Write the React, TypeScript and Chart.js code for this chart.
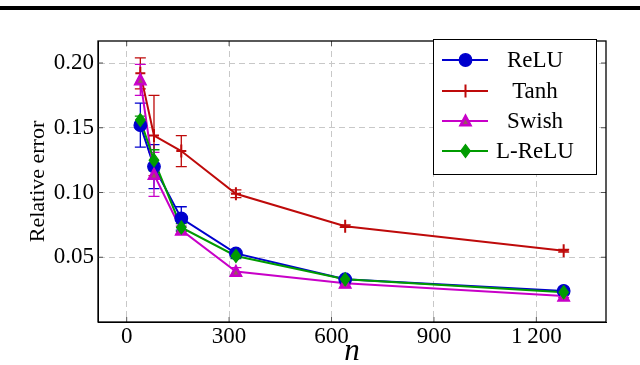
import React, { useEffect, useRef } from "react";
import { Chart, registerables } from "chart.js";
Chart.register(...registerables);

// ---- data ----
const nValues = [40, 80, 160, 320, 640, 1280];
const reluMean = [0.152, 0.12, 0.08, 0.053, 0.033, 0.024];
const reluErr = [0.017, 0.017, 0.009, 0.002, 0.001, 0.001];
const tanhMean = [0.192, 0.144, 0.132, 0.099, 0.074, 0.055];
const tanhErr = [0.012, 0.031, 0.012, 0.003, 0.001, 0.001];
const swishMean = [0.187, 0.114, 0.071, 0.039, 0.03, 0.02];
const swishErr = [0.012, 0.017, 0.003, 0.003, 0.001, 0.001];
const lreluMean = [0.156, 0.125, 0.073, 0.051, 0.033, 0.023];
const lreluErr = [0.003, 0.008, 0.003, 0.002, 0.001, 0.001];
const seriesNames = ["ReLU", "Tanh", "Swish", "L-ReLU"];
const xTicks = [0, 300, 600, 900, 1200];
const xTickLabels = ["0", "300", "600", "900", "1\u2009200"];
const yTicks = [0.05, 0.1, 0.15, 0.2];
const yTickLabels = ["0.05", "0.10", "0.15", "0.20"];
const xTitle = "n";
const yTitle = "Relative error";

const SERIF = "'Liberation Serif', 'Times New Roman', serif";
const BLUE = "rgb(0,0,205)";
const RED = "rgb(190,10,10)";
const MAGENTA = "rgb(200,0,200)";
const GREEN = "rgb(0,155,0)";
const styles = [
  { color: BLUE, fill: BLUE, marker: "circle" },
  { color: RED, fill: RED, marker: "plus" },
  { color: MAGENTA, fill: MAGENTA, marker: "triangle" },
  { color: GREEN, fill: GREEN, marker: "diamond" },
];

function drawMarker(ctx: CanvasRenderingContext2D, kind: string, x: number, y: number, color: string, fill: string) {
  ctx.save();
  ctx.strokeStyle = color;
  ctx.fillStyle = fill;
  ctx.lineWidth = 1.2;
  ctx.setLineDash([]);
  ctx.beginPath();
  if (kind === "circle") {
    ctx.arc(x, y, 6.3, 0, Math.PI * 2);
    ctx.fill();
    ctx.stroke();
  } else if (kind === "plus") {
    ctx.lineWidth = 2;
    ctx.moveTo(x - 5, y);
    ctx.lineTo(x + 5, y);
    ctx.moveTo(x, y - 6.5);
    ctx.lineTo(x, y + 6.5);
    ctx.stroke();
  } else if (kind === "triangle") {
    ctx.moveTo(x, y - 6.5);
    ctx.lineTo(x + 6, y + 5);
    ctx.lineTo(x - 6, y + 5);
    ctx.closePath();
    ctx.fill();
    ctx.stroke();
    ctx.fillStyle = "rgb(150,90,90)";
    ctx.beginPath();
    ctx.moveTo(x, y - 1.5);
    ctx.lineTo(x + 2.5, y + 3);
    ctx.lineTo(x - 2.5, y + 3);
    ctx.closePath();
    ctx.fill();
  } else {
    ctx.moveTo(x, y - 6.5);
    ctx.lineTo(x + 4.8, y);
    ctx.lineTo(x, y + 6.5);
    ctx.lineTo(x - 4.8, y);
    ctx.closePath();
    ctx.fill();
    ctx.stroke();
  }
  ctx.restore();
}

const errorBarPlugin = {
  id: "errorBars",
  beforeDatasetsDraw(chart: any) {
    const ctx = chart.ctx;
    const xs = chart.scales.x;
    const ys = chart.scales.y;
    const area = chart.chartArea;
    ctx.save();
    ctx.beginPath();
    ctx.rect(area.left, area.top, area.right - area.left, area.bottom - area.top);
    ctx.clip();
    chart.data.datasets.forEach((ds: any) => {
      ctx.strokeStyle = ds.borderColor;
      ctx.lineWidth = 1.3;
      ds.data.forEach((p: any, j: number) => {
        const e = ds.errors[j];
        const x = xs.getPixelForValue(p.x);
        const y1 = ys.getPixelForValue(p.y + e);
        const y2 = ys.getPixelForValue(p.y - e);
        ctx.beginPath();
        ctx.moveTo(x, y1);
        ctx.lineTo(x, y2);
        ctx.moveTo(x - 5.5, y1);
        ctx.lineTo(x + 5.5, y1);
        ctx.moveTo(x - 5.5, y2);
        ctx.lineTo(x + 5.5, y2);
        ctx.stroke();
      });
    });
    ctx.restore();
  },
};

const markerPlugin = {
  id: "markers",
  afterDatasetsDraw(chart: any) {
    const ctx = chart.ctx;
    const xs = chart.scales.x;
    const ys = chart.scales.y;
    chart.data.datasets.forEach((ds: any, i: number) => {
      const st = styles[i];
      ds.data.forEach((p: any) => {
        drawMarker(ctx, st.marker, xs.getPixelForValue(p.x), ys.getPixelForValue(p.y), st.color, st.fill);
      });
    });
  },
};

const framePlugin = {
  id: "frameLegend",
  afterDraw(chart: any) {
    const ctx = chart.ctx;
    const a = chart.chartArea;
    const xs = chart.scales.x;
    const ys = chart.scales.y;
    ctx.save();
    ctx.setLineDash([]);
    // tick marks
    ctx.strokeStyle = "#555";
    ctx.lineWidth = 1;
    ctx.beginPath();
    xTicks.forEach((v) => {
      const x = xs.getPixelForValue(v);
      ctx.moveTo(x, a.bottom);
      ctx.lineTo(x, a.bottom - 5);
      ctx.moveTo(x, a.top);
      ctx.lineTo(x, a.top + 5);
    });
    yTicks.forEach((v) => {
      const y = ys.getPixelForValue(v);
      ctx.moveTo(a.left, y);
      ctx.lineTo(a.left + 5, y);
      ctx.moveTo(a.right, y);
      ctx.lineTo(a.right - 5, y);
    });
    ctx.stroke();
    // frame
    ctx.strokeStyle = "#000";
    ctx.lineWidth = 1.3;
    ctx.strokeRect(a.left, a.top, a.right - a.left, a.bottom - a.top);
    // legend
    const lx = 433, ly = 39, lw = 163, lh = 135;
    ctx.fillStyle = "#fff";
    ctx.fillRect(lx, ly, lw, lh);
    ctx.strokeStyle = "#000";
    ctx.lineWidth = 1;
    ctx.strokeRect(lx + 0.5, ly + 0.5, lw, lh);
    const rows = [60, 91, 121, 151];
    seriesNames.forEach((name, i) => {
      const st = styles[i];
      const y = rows[i];
      ctx.strokeStyle = st.color;
      ctx.lineWidth = 2;
      ctx.beginPath();
      ctx.moveTo(442, y);
      ctx.lineTo(488, y);
      ctx.stroke();
      drawMarker(ctx, st.marker, 465.5, y, st.color, st.fill);
      ctx.fillStyle = "#000";
      ctx.font = `23px ${SERIF}`;
      ctx.textAlign = "center";
      ctx.textBaseline = "middle";
      ctx.fillText(name, 535, y + 1);
    });
    ctx.restore();
  },
};

export default function App() {
  const ref = useRef<HTMLCanvasElement | null>(null);
  useEffect(() => {
    const canvas = ref.current!;
    const means = [reluMean, tanhMean, swishMean, lreluMean];
    const errs = [reluErr, tanhErr, swishErr, lreluErr];
    const orders = [3, 2, 1, 0];
    const chart = new Chart(canvas, {
      type: "line",
      data: {
        datasets: seriesNames.map((name, i) => ({
          label: name,
          data: nValues.map((n, j) => ({ x: n, y: means[i][j] })),
          errors: errs[i],
          borderColor: styles[i].color,
          backgroundColor: styles[i].color,
          borderWidth: 2,
          pointRadius: 0,
          tension: 0,
          order: orders[i],
        })) as any,
      },
      options: {
        animation: false,
        responsive: false,
        devicePixelRatio: 1,
        layout: { padding: { top: 41, right: 34, left: 0, bottom: 0 } },
        plugins: { legend: { display: false }, tooltip: { enabled: false } },
        scales: {
          x: {
            type: "linear",
            min: -84,
            max: 1404,
            afterBuildTicks: (s: any) => {
              s.ticks = xTicks.map((v) => ({ value: v }));
            },
            afterFit: (s: any) => {
              s.height = 43;
            },
            ticks: {
              autoSkip: false,
              maxRotation: 0,
              padding: 1,
              color: "#000",
              font: { family: SERIF, size: 23 },
              callback: (v: any) => xTickLabels[xTicks.indexOf(Number(v))],
            },
            grid: { color: "#c8c8c8", lineWidth: 1, drawTicks: false },
            border: { display: true, color: "#000", width: 1, dash: [6, 4] },
            title: {
              display: true,
              text: xTitle,
              color: "#000",
              font: { family: SERIF, size: 31, style: "italic", lineHeight: 0.84 },
              padding: { top: 0, bottom: 0 },
            },
          },
          y: {
            type: "linear",
            min: 0,
            max: 0.217,
            afterBuildTicks: (s: any) => {
              s.ticks = yTicks.map((v) => ({ value: v }));
            },
            afterFit: (s: any) => {
              s.width = 98;
            },
            ticks: {
              autoSkip: false,
              padding: 4,
              color: "#000",
              font: { family: SERIF, size: 23 },
              callback: (v: any) => {
                const i = yTicks.findIndex((t) => Math.abs(t - Number(v)) < 1e-9);
                return yTickLabels[i];
              },
            },
            grid: { color: "#c8c8c8", lineWidth: 1, drawTicks: false },
            border: { display: true, color: "#000", width: 1, dash: [6, 4] },
            title: {
              display: true,
              text: yTitle,
              color: "#000",
              font: { family: SERIF, size: 22 },
              padding: { top: 25, bottom: 0 },
            },
          },
        },
      },
      plugins: [errorBarPlugin, markerPlugin, framePlugin],
    } as any);
    return () => chart.destroy();
  }, []);
  return (
    <div style={{ position: "fixed", left: 0, top: 0, width: 640, height: 365, background: "#fff" }}>
      <div style={{ position: "absolute", left: 0, top: 6, width: 640, height: 4, background: "#000" }} />
      <canvas ref={ref} width={640} height={365} style={{ position: "absolute", left: 0, top: 0 }} />
    </div>
  );
}
